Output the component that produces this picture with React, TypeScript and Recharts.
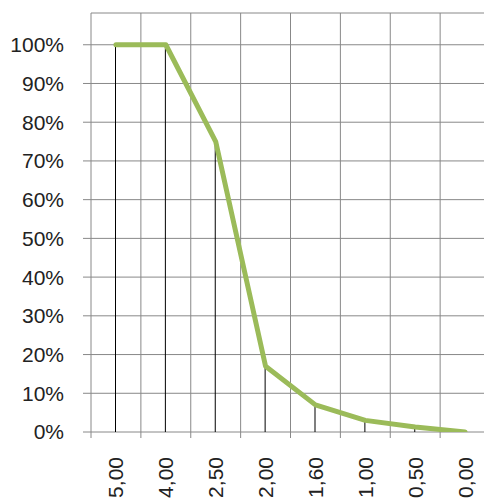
import React from 'react';
import { ComposedChart, Line, Bar, XAxis, YAxis, CartesianGrid } from 'recharts';

const categories = ['5,00', '4,00', '2,50', '2,00', '1,60', '1,00', '0,50', '0,00'];
const shares = [1, 1, 0.75, 0.17, 0.07, 0.03, 0.013, 0];
const yTicks = [0, 0.1, 0.2, 0.3, 0.4, 0.5, 0.6, 0.7, 0.8, 0.9, 1];
const boundaryTicks = [0, 1, 2, 3, 4, 5, 6, 7, 8];

const data = categories.map((c, i) => ({ label: c, share: shares[i], slot: i + 0.5 }));

const FONT = '"Liberation Sans", Arial, sans-serif';
const GRID = '#888888';
const TEXT = '#222222';

const RotatedTick = (props: any) => {
  const { x, y, payload } = props;
  return (
    <text
      x={x}
      y={y}
      transform={`rotate(-90, ${x}, ${y})`}
      textAnchor="end"
      dy="0.36em"
      fontFamily={FONT}
      fontSize={21}
      fill={TEXT}
    >
      {payload.value}
    </text>
  );
};

const NoTick = () => <g />;

export default function App() {
  return (
    <div style={{ position: 'absolute', left: 0, top: 0, width: 484, height: 500, overflow: 'hidden', background: '#fff' }}>
      <ComposedChart
        width={500}
        height={500}
        data={data}
        margin={{ top: 13, right: 10, bottom: 0, left: 0 }}
      >
        <CartesianGrid xAxisId="a" stroke={GRID} strokeWidth={1} />
        <XAxis
          xAxisId="b"
          dataKey="label"
          type="category"
          height={62}
          axisLine={false}
          tickLine={false}
          tickSize={0}
          tickMargin={19}
          interval={0}
          tick={<RotatedTick />}
        />
        <XAxis
          xAxisId="a"
          dataKey="slot"
          type="number"
          domain={[0, categories.length]}
          ticks={boundaryTicks}
          allowDataOverflow
          height={6}
          axisLine={false}
          tick={NoTick}
          tickLine={{ stroke: GRID }}
          tickSize={6}
        />
        <YAxis
          domain={[0, 1.082]}
          ticks={yTicks}
          allowDataOverflow
          width={91}
          axisLine={false}
          tickLine={{ stroke: GRID }}
          tickSize={8}
          tickMargin={19}
          tickFormatter={(v: number) => `${Math.round(v * 100)}%`}
          tick={{ fontFamily: FONT, fontSize: 21, fill: TEXT }}
        />
        <Bar xAxisId="b" dataKey="share" fill="#000" barSize={1} isAnimationActive={false} />
        <Line
          xAxisId="b"
          dataKey="share"
          type="linear"
          stroke="#9BBB59"
          strokeWidth={5}
          strokeLinejoin="round"
          strokeLinecap="round"
          dot={false}
          activeDot={false}
          isAnimationActive={false}
        />
      </ComposedChart>
    </div>
  );
}
